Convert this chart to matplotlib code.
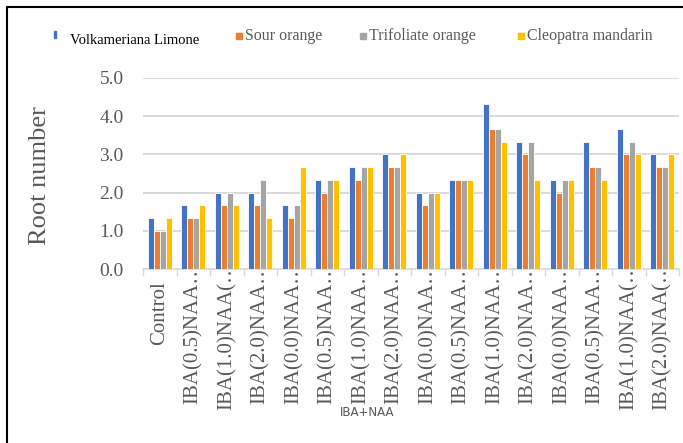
import numpy as np
import matplotlib.pyplot as plt
from matplotlib.patches import Rectangle
from matplotlib.lines import Line2D
from matplotlib.transforms import ScaledTranslation

# Data
treatments = ['Control', 'IBA(0.5)NAA…', 'IBA(1.0)NAA(…', 'IBA(2.0)NAA…',
              'IBA(0.0)NAA…', 'IBA(0.5)NAA…', 'IBA(1.0)NAA…', 'IBA(2.0)NAA…',
              'IBA(0.0)NAA…', 'IBA(0.5)NAA…', 'IBA(1.0)NAA…', 'IBA(2.0)NAA…',
              'IBA(0.0)NAA…', 'IBA(0.5)NAA…', 'IBA(1.0)NAA(…', 'IBA(2.0)NAA(…']
series_names = ['Volkameriana Limone', 'Sour orange', 'Trifoliate orange', 'Cleopatra mandarin']
volkameriana = [1.33, 1.67, 2.00, 2.00, 1.67, 2.33, 2.67, 3.00, 2.00, 2.33, 4.33, 3.33, 2.33, 3.33, 3.67, 3.00]
sour_orange = [1.00, 1.33, 1.67, 1.67, 1.33, 2.00, 2.33, 2.67, 1.67, 2.33, 3.67, 3.00, 2.00, 2.67, 3.00, 2.67]
trifoliate = [1.00, 1.33, 2.00, 2.33, 1.67, 2.33, 2.67, 2.67, 2.00, 2.33, 3.67, 3.33, 2.33, 2.67, 3.33, 2.67]
cleopatra = [1.33, 1.67, 1.67, 1.33, 2.67, 2.33, 2.67, 3.00, 2.00, 2.33, 3.33, 2.33, 2.33, 2.33, 3.00, 3.00]
colors = ['#4472C4', '#ED7D31', '#A5A5A5', '#FFC000']

serif = 'Liberation Serif'
text_gray = '#595959'
grid_gray = '#D9D9D9'

fig = plt.figure(figsize=(6.83, 4.43), dpi=100)
W, H = 683, 443
ax = fig.add_axes([143 / W, 1 - 269 / H, 536 / W, 191 / H])

x = np.arange(len(treatments))
bar_w = 0.18
for i, vals in enumerate([volkameriana, sour_orange, trifoliate, cleopatra]):
    ax.bar(x + (i - 1.5) * bar_w, vals, bar_w, color=colors[i],
           edgecolor='white', linewidth=0.6, zorder=3)

ax.set_xlim(-0.5, len(treatments) - 0.5)
ax.set_ylim(0, 5)
ax.set_yticks(np.arange(0, 5.1, 1.0))
ax.set_yticklabels([f'{v:.1f}' for v in np.arange(0, 5.1, 1.0)],
                   fontfamily=serif, fontsize=14, color=text_gray)
ax.yaxis.grid(True, color=grid_gray, linewidth=1.4, zorder=0)
ax.tick_params(axis='y', length=0, pad=14)

ax.set_xticks(x)
ax.set_xticklabels(treatments, rotation=90, fontfamily=serif, fontsize=15,
                   color=text_gray)
ax.set_xticks(np.arange(-0.5, len(treatments), 1.0), minor=True)
ax.tick_params(axis='x', which='major', length=0, pad=9)
ax.tick_params(axis='x', which='minor', length=5, color=grid_gray, width=1)

# truncated labels: ellipsis rides up into the axis area
lift = ScaledTranslation(0, 0.20, fig.dpi_scale_trans)
for lab in ax.get_xticklabels():
    if lab.get_text().endswith('…'):
        lab.set_transform(lab.get_transform() + lift)

for s in ['top', 'right', 'left']:
    ax.spines[s].set_visible(False)
ax.spines['bottom'].set_color(grid_gray)
ax.spines['bottom'].set_linewidth(1.2)

ax.set_ylabel('Root number', fontfamily=serif, fontsize=19, color=text_gray,
              va='center')
ax.yaxis.set_label_coords((40 - 143) / 536, 0.49)
ax.set_xlabel('IBA+NAA', fontfamily=['Liberation Sans Narrow', 'DejaVu Sans'],
              fontsize=8.5, color=text_gray, va='center')
ax.xaxis.set_label_coords((367 - 143) / 536, (269 - 412) / 191)

# legend row across the top
fig.add_artist(Rectangle((54 / W, 1 - 38 / H), 2 / W, 7 / H,
                         color=colors[0], transform=fig.transFigure))
fig.text(70 / W, 1 - 40 / H, series_names[0], fontfamily=serif, fontsize=10.5,
         color='black', va='center')
legend_x = [236, 360, 518]
for i, lx in enumerate(legend_x):
    fig.add_artist(Rectangle((lx / W, 1 - 39 / H), 6 / W, 6 / H,
                             color=colors[i + 1], transform=fig.transFigure))
    fig.text((lx + 9) / W, 1 - 36 / H, series_names[i + 1], fontfamily=serif,
             fontsize=11.4, color=text_gray, va='center')

# outer frame (left and top edges)
fig.add_artist(Line2D([7 / W, 7 / W, 1.01], [-0.01, 1 - 7 / H, 1 - 7 / H],
                      color='black', linewidth=1.5, transform=fig.transFigure))

fig.savefig('out.png', dpi=100)
